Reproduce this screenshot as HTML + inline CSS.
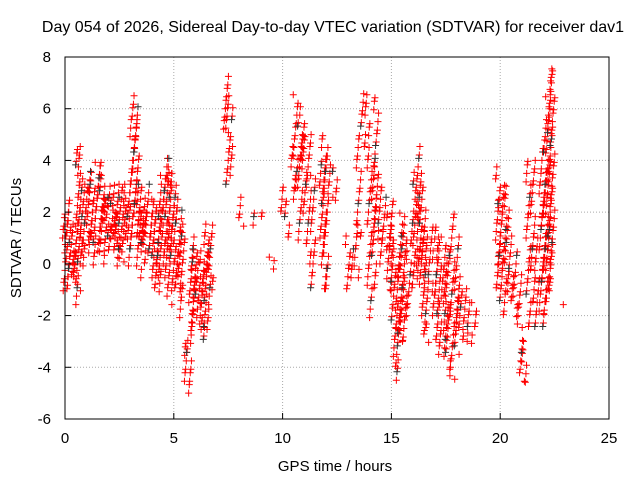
<!DOCTYPE html>
<html><head><meta charset="utf-8"><style>
body{margin:0;background:#fff;width:640px;height:480px;overflow:hidden}
text{font-family:"Liberation Sans",sans-serif;fill:#000}
</style></head><body>
<svg id="chart" width="640" height="480" xmlns="http://www.w3.org/2000/svg">
<rect width="640" height="480" fill="#fff"/>
<text x="333" y="32" font-size="16" text-anchor="middle">Day 054 of 2026, Sidereal Day-to-day VTEC variation (SDTVAR) for receiver dav1</text>
<g id="grid"></g>
<g id="marks"></g>
<rect x="65" y="57" width="544" height="362" fill="none" stroke="#000" stroke-width="1"/>
<g id="ticks"></g>
<text x="335" y="471" font-size="15" text-anchor="middle">GPS time / hours</text>
<text x="21" y="238" font-size="15" text-anchor="middle" transform="rotate(-90 21 238)">SDTVAR / TECUs</text>
</svg>
<script>
const xTicks=[0,5,10,15,20,25];
const yTicks=[-6,-4,-2,0,2,4,6,8];
const times=[0,0.1,0.2,0.3,0.4,0.5,0.6,0.7,0.8,0.9,1.0,1.1,1.2,1.3,1.4,1.5,1.6,1.7,1.8,1.9,2.0,2.1,2.2,2.3,2.4,2.5,2.6,2.7,2.8,2.9,3.0,3.1,3.2,3.3,3.4,3.5,3.6,3.7,3.8,3.9,4.0,4.1,4.2,4.3,4.4,4.5,4.6,4.7,4.8,4.9,5.0,5.1,5.2,5.3,5.4,5.5,5.6,5.7,5.8,5.9,6.0,6.1,6.2,6.3,6.4,6.5,6.6,6.7,7.4,7.5,7.6,7.7,8.0,8.1,8.7,9.0,9.5,10.0,10.2,10.5,10.6,10.8,10.9,11.0,11.2,11.4,11.8,11.9,12.0,12.2,12.4,13.0,13.2,13.4,13.5,13.7,13.9,14.0,14.2,14.3,14.5,14.7,14.9,15.0,15.1,15.2,15.3,15.4,15.5,15.6,15.8,16.0,16.1,16.2,16.3,16.4,16.5,16.6,16.8,17.0,17.1,17.2,17.4,17.5,17.6,17.8,18.0,18.1,18.2,18.4,18.6,18.8,19.9,20.0,20.2,20.3,20.5,20.7,20.9,21.0,21.1,21.3,21.5,21.7,21.9,22.0,22.1,22.2,22.3,22.4,22.9];
const lows=[-1,-0.5,-1,-0.5,-0.5,-1.5,-1,0,0,0.5,1,1,0.5,0,0.5,1.5,0.5,0,0.5,1,0.5,1,1,0.5,0,0.5,0,0.5,1,1,0,0.5,2,1,-0.5,0.5,0,0.5,0.5,1,-0.5,0,-1,-1,-0.5,0.5,0,-0.5,-1.5,-1,0,-1,-1,-2,-1,-3.5,-5,-4.5,-3,-2.5,-2,-1.5,-2.5,-3,-2.5,-2.5,-1.5,-1,5,3,5.5,3.5,2,1.5,1.5,1.8,-0.2,2,1,2.5,3,1,4,2,0,-1,1,-1,-1,2.5,2.5,-1,-0.5,-0.5,1,4.5,5,-2,-1,1,0,0.5,-1,-1,-2.5,-4.5,-4,-3,-2.5,-3,-2,-1,0,1,-0.5,-1,-2.5,-3,-1,-2,-3,-3.5,-2.5,-3.5,-4,-4.5,-3.5,-2,-3,-3,-3,-2.5,-1,-1.5,-2,-1,-1.5,-2,-2.5,-4.5,-4.5,-2.5,-1.5,-2.5,-2.5,-2,-1.5,-1,-1,0,-1.5];
const highs=[2,2.5,2,1.5,1.5,1.5,4.5,4.5,3,2,3,3.5,3.5,3,2.5,4,4,3.5,3,2.5,2.5,3,2.5,3,3,2.5,2.5,3,3,2.5,4,5.5,6.5,6,3,3,2.5,2,2,3,2.5,2.5,2,2,3,3.5,4,3.5,4,3.5,3.5,2.5,2,1.5,2,-3,-3.5,-3,0.5,1,0.5,0,-0.5,0.5,0,1.5,1,1.5,7.3,6.5,6.2,4.5,2.5,2.2,2,2.1,0.5,3,2.5,4.5,6.5,5.5,6,5,5,3.5,4,5,4.5,3.8,3.8,1,0.5,1.5,5,6.5,6.5,4.5,4,6.5,3,2.5,2,2.5,1,-1.5,0,1.5,2,1,0.5,2,3.5,4.5,3.5,3,2,1,1.5,0.5,1.5,1,1,0,0.5,2,1,-0.5,-1,-1,-1.5,-1.5,3.8,2.5,3,3,1,0.5,-0.5,-3,-2.8,4,4,1,3.5,4.5,5.5,6.5,7.5,7.7,-1.3];
const X=v=>65+v*544/25, Y=v=>57+(8-v)*362/14;
const NS="http://www.w3.org/2000/svg";
const grid=document.getElementById('grid'),ticks=document.getElementById('ticks'),marks=document.getElementById('marks');
function mk(tag,at,par){const e=document.createElementNS(NS,tag);for(const k in at)e.setAttribute(k,at[k]);par.appendChild(e);return e;}
xTicks.forEach(t=>{
 if(t>0&&t<25){const g=mk('line',{x1:X(t),x2:X(t),y1:57,y2:419,stroke:'#aaa','stroke-dasharray':'1,2'},grid);
 
 }
 const a=mk('line',{x1:X(t),x2:X(t),y1:419,y2:413,stroke:'#000'},ticks);
 
 
 const tx=mk('text',{x:X(t),y:443,'font-size':15,'text-anchor':'middle'},ticks);tx.textContent=t;
 
 
});
yTicks.forEach(t=>{
 if(t>-6&&t<8){const g=mk('line',{x1:65,x2:609,y1:Y(t),y2:Y(t),stroke:'#aaa','stroke-dasharray':'1,2'},grid);
 
 }
 const a=mk('line',{x1:65,x2:71,y1:Y(t),y2:Y(t),stroke:'#000'},ticks);
 
 
 const tx=mk('text',{x:51,y:Y(t)+5,'font-size':15,'text-anchor':'end'},ticks);tx.textContent=t;
 
 
});
let n=0,d='',dk='';
times.forEach((t,i)=>{
 const lo=lows[i],hi=highs[i];
 for(let v=lo;v<=hi+1e-6;v+=0.25){
  n++;
  const x=X(t)+((n*37)%9-4)*0.6,y=Y(v)+((n*13)%5-2);
  const p=`M${x-3.5},${y}h7M${x},${y-3.5}v7`;
  if(n%15===0)dk+=p;else d+=p;
 }
});
const pr=mk('path',{d:d,stroke:'#f00','stroke-width':1,fill:'none'},marks);


const pk=mk('path',{d:dk,stroke:'#333','stroke-width':1,fill:'none'},marks);


</script>
</body></html>
